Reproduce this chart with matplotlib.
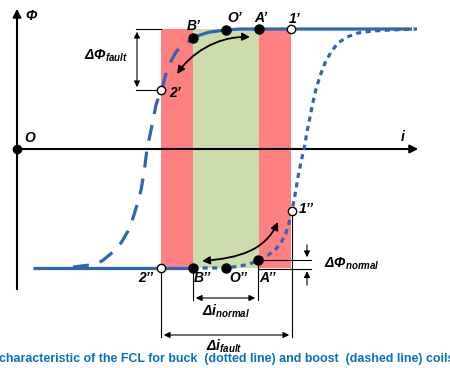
import matplotlib
matplotlib.use("Agg")
import matplotlib.pyplot as plt
from matplotlib.patches import FancyArrowPatch
from matplotlib.path import Path

plt.rcParams['mathtext.fontset'] = 'custom'
plt.rcParams['mathtext.rm'] = 'Liberation Sans:bold:italic'
plt.rcParams['mathtext.it'] = 'Liberation Sans:bold:italic'

# schematic in picture coordinates (x right, y down)
flux_top, flux_bot = 29, 268
i_axis_y, phi_axis_x = 149, 17
band_x = [161, 193, 259, 291]          # red | green | red edges
band_colors = ['#FF8080', '#CCDCAA', '#FF8080']

# buck coil curve (dotted)
buck_x = [193, 210, 226, 240, 250, 258, 267, 275, 281, 286, 289, 292, 295, 298,
          301, 304, 307, 310, 313, 316, 320, 325, 331, 338, 347, 358, 372, 390, 417]
buck_y = [268, 268, 268, 266, 264, 260, 256, 250, 243, 233, 223, 211, 195, 177,
          162, 149, 132, 117, 102, 89, 76, 63, 52, 43, 37, 33, 31, 30, 29]
# boost coil curve (dashed)
boost_x = [73, 90, 102, 113, 121, 128, 133, 137, 141, 144, 147, 150, 153, 156,
           159, 162, 165, 170, 176, 183, 190]
boost_y = [267, 265, 261, 252, 243, 231, 218, 205, 190, 173, 149, 135, 120, 105,
           96, 90, 77, 63, 52, 45, 41]
# operating (solid) parts
top_x = [193, 200, 210, 226, 240, 412]
top_y = [38, 35, 32, 30, 29, 29]
bot_x = [33, 193]
bot_y = [268, 268]

filled_pts = {"B’": (193, 38), "O’": (226, 30), "A’": (259, 29),
              "B’’": (193, 268), "O’’": (226, 268), "A’’": (258, 260)}
open_pts = {"1’": (291, 29), "2’": (161, 90), "2’’": (161, 268), "1’’": (292, 211)}
label_pos = {"B’": (194, 26), "O’": (235, 18), "A’": (261, 18), "1’": (295, 19),
             "2’": (175, 93), "2’’": (146, 278), "B’’": (202, 278),
             "O’’": (238, 278), "A’’": (268, 278), "1’’": (306, 209)}

top_arrow = [(250, 37), (215, 36), (190, 55), (177, 74)]
bot_arrow = [(202, 261), (240, 258), (265, 250), (278, 222)]

blue = '#2F65B5'
fig = plt.figure(figsize=(4.5, 3.68), dpi=100)
ax = fig.add_axes([0, 0, 1, 1])
ax.set_xlim(0, 450)
ax.set_ylim(368, 0)
ax.axis('off')

for k in range(3):
    ax.fill_between([band_x[k], band_x[k + 1]], flux_top, flux_bot,
                    color=band_colors[k], lw=0, zorder=1)

# axes
ax.annotate('', xy=(phi_axis_x, 6), xytext=(phi_axis_x, 292),
            arrowprops=dict(arrowstyle='-|>', lw=1.5, color='black', mutation_scale=12), zorder=2)
ax.annotate('', xy=(421, i_axis_y), xytext=(phi_axis_x, i_axis_y),
            arrowprops=dict(arrowstyle='-|>', lw=1.5, color='black', mutation_scale=12), zorder=2)
ax.plot(phi_axis_x, i_axis_y, 'o', color='black', ms=6, zorder=5)

# curves
ax.plot(buck_x, buck_y, color=blue, lw=2.3, ls=(0, (1.6, 1.4)), zorder=3)
ax.plot(boost_x, boost_y, color=blue, lw=2.3, ls=(0, (5, 3.5)), zorder=3)
ax.plot(top_x, top_y, color=blue, lw=2.3, zorder=3, solid_capstyle='butt')
ax.plot(bot_x, bot_y, color=blue, lw=2.3, zorder=3, solid_capstyle='butt')

# dimension lines
thin = dict(color='black', lw=0.8, zorder=2)
ax.plot([136, 161], [flux_top, flux_top], **thin)
ax.plot([136, 161], [90, 90], **thin)
ax.annotate('', xy=(137, flux_top), xytext=(137, 90),
            arrowprops=dict(arrowstyle='<|-|>', lw=0.8, color='black', mutation_scale=9))
ax.plot([258, 311], [260, 260], **thin)
ax.plot([258, 311], [268.5, 268.5], **thin)
ax.annotate('', xy=(307, 260), xytext=(307, 242),
            arrowprops=dict(arrowstyle='-|>', lw=0.8, color='black', mutation_scale=9))
ax.annotate('', xy=(307, 268.5), xytext=(307, 288),
            arrowprops=dict(arrowstyle='-|>', lw=0.8, color='black', mutation_scale=9))
ax.plot([193, 193], [268, 300], **thin)
ax.plot([258, 258], [260, 300], **thin)
ax.annotate('', xy=(193, 298), xytext=(258, 298),
            arrowprops=dict(arrowstyle='<|-|>', lw=0.8, color='black', mutation_scale=9))
ax.plot([161, 161], [268, 337], **thin)
ax.plot([292, 292], [211, 337], **thin)
ax.annotate('', xy=(161, 335), xytext=(292, 335),
            arrowprops=dict(arrowstyle='<|-|>', lw=0.8, color='black', mutation_scale=9))

# curved transition arrows
codes = [Path.MOVETO, Path.CURVE4, Path.CURVE4, Path.CURVE4]
for verts in (top_arrow, bot_arrow):
    ax.add_patch(FancyArrowPatch(path=Path(verts, codes), arrowstyle='<|-|>',
                                 mutation_scale=11, lw=1.3, color='black', zorder=4))

# points
for name, (x, y) in filled_pts.items():
    ax.plot(x, y, 'o', color='black', ms=6.5, zorder=6)
for name, (x, y) in open_pts.items():
    ax.plot(x, y, 'o', mfc='white', mec='black', mew=1, ms=6, zorder=6)

lab = dict(family='Liberation Sans', weight='bold', style='italic', fontsize=10,
           ha='center', va='center', zorder=7)
for name, (x, y) in label_pos.items():
    ax.text(x, y, name, **lab)
ax.text(31, 16, 'Φ', **lab)
ax.text(30, 138, 'O', **lab)
ax.text(403, 137, 'i', **lab)

mt = dict(fontsize=10, ha='left', va='center')
ax.text(84, 56, r'$ΔΦ_{fault}$', **mt)
ax.text(324, 264, r'$ΔΦ_{normal}$', **mt)
ax.text(202, 311, r'$Δi_{normal}$', **mt)
ax.text(206, 346, r'$Δi_{fault}$', **mt)

ax.text(-1, 359, 'characteristic of the FCL for buck  (dotted line) and boost  (dashed line) coils',
        family='Liberation Sans', weight='bold', fontsize=8.9, color='#0A70C0',
        ha='left', va='center')

fig.savefig('out.png', dpi=100)
